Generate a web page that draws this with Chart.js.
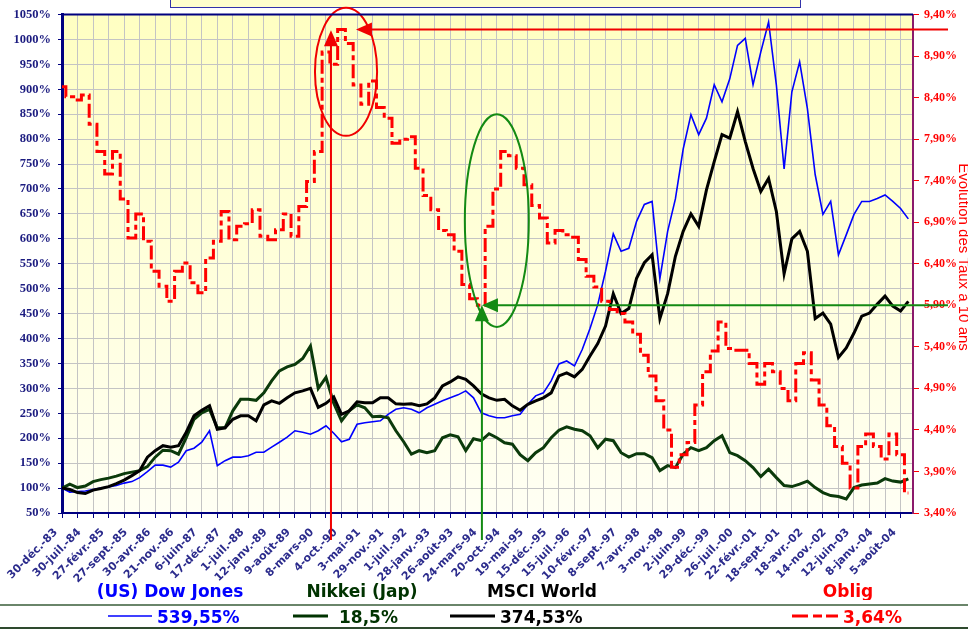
<!DOCTYPE html>
<html>
<head>
<meta charset="utf-8">
<script src="https://cdn.jsdelivr.net/npm/chart.js@4.4.1/dist/chart.umd.min.js"></script>
<style>
  html, body { margin: 0; padding: 0; background: #fff; overflow: hidden; }
  canvas { display: block; }
</style>
</head>
<body>
<canvas id="chart" width="968" height="629"></canvas>
<script>
// date labels, one every 150 quotes
const tickLabels = ['30-déc.-83', '30-juil.-84', '27-févr.-85', '27-sept.-85', '30-avr.-86', '21-nov.-86',
  '6-juin-87', '17-déc.-87', '1-juil.-88', '12-janv.-89', '9-août-89', '8-mars-90', '4-oct.-90',
  '3-mai-91', '29-nov.-91', '1-juil.-92', '28-janv.-93', '26-août-93', '24-mars-94', '20-oct.-94',
  '19-mai-95', '15-déc.-95', '15-juil.-96', '10-févr.-97', '8-sept.-97', '7-avr.-98', '3-nov.-98',
  '2-juin-99', '29-déc.-99', '26-juil.-00', '22-févr.-01', '18-sept.-01', '18-avr.-02', '14-nov.-02',
  '12-juin-03', '8-janv.-04', '5-août-04'];
const leftTicks = [50, 100, 150, 200, 250, 300, 350, 400, 450, 500, 550, 600, 650, 700, 750, 800, 850, 900, 950, 1000, 1050];
const rightTicks = [3.4, 3.9, 4.4, 4.9, 5.4, 5.9, 6.4, 6.9, 7.4, 7.9, 8.4, 8.9, 9.4];

// index base 100 on 30-déc.-83, one value every 50 quotes
const dowJones = [
  100, 92, 93, 94, 97, 100, 102, 105, 110, 113,
  121, 133, 146, 146, 142, 152, 175, 180, 192, 215,
  145, 155, 162, 162, 165, 172, 172, 182, 192, 202,
  215, 212, 208, 215, 225, 210, 193, 198, 228, 231,
  233, 235, 248, 258, 261, 258, 251, 261, 268, 275,
  281, 287, 295, 281, 251, 245, 241, 241, 245, 248,
  268, 285, 291, 315, 349, 355, 345, 378, 420, 468,
  535, 610, 575, 581, 635, 669, 675, 520, 615, 680,
  780, 849, 809, 842, 909, 875, 921, 988, 1002, 909,
  975, 1035, 909, 740, 895, 955, 861, 729, 649, 675,
  568, 608, 649, 675, 675, 681, 688, 675, 661, 640
];
const nikkei = [
  100, 108, 101, 104, 113, 117, 120, 124, 129, 132,
  135, 143, 162, 176, 175, 168, 201, 238, 251, 258,
  221, 221, 255, 278, 278, 276, 291, 315, 335, 343,
  348, 360, 385, 300, 322, 270, 235, 255, 267, 261,
  243, 244, 241, 215, 193, 168, 175, 171, 175, 201,
  207, 203, 175, 199, 195, 209, 201, 191, 188, 167,
  155, 171, 181, 201, 216, 223, 218, 215, 205, 181,
  198, 195, 171, 162, 169, 169, 161, 135, 145, 141,
  168, 181, 175, 181, 195, 205, 171, 165, 155, 141,
  123, 138, 121, 105, 103, 108, 114, 101, 91, 85,
  83, 78, 101, 106, 108, 110, 119, 114, 112, 118.5
];
const msci = [
  100, 97, 91, 89, 96, 99, 103, 109, 116, 125,
  135, 162, 175, 185, 182, 185, 212, 245, 256, 265,
  218, 221, 238, 245, 245, 235, 267, 275, 270, 281,
  291, 295, 300, 262, 270, 283, 248, 255, 273, 271,
  271, 281, 281, 269, 268, 269, 265, 269, 281, 305,
  313, 323, 318, 305, 289, 281, 276, 278, 265, 256,
  268, 275, 281, 291, 325, 331, 323, 338, 365, 390,
  425, 490, 450, 460, 521, 552, 568, 440, 490, 565,
  615, 650, 625, 698, 755, 809, 802, 855, 795, 741,
  695, 721, 655, 530, 600, 615, 575, 440, 451, 429,
  362, 381, 411, 445, 451, 469, 485, 465, 455, 474.5
];
// 10-year rate, %, right axis
const oblig = [
  8.53, 8.41, 8.37, 8.43, 8.08, 7.75, 7.48, 7.75, 7.18, 6.71,
  7.00, 6.67, 6.31, 6.13, 5.95, 6.31, 6.41, 6.17, 6.05, 6.47,
  6.67, 7.03, 6.69, 6.85, 6.88, 7.05, 6.73, 6.69, 6.81, 7.00,
  6.73, 7.09, 7.39, 7.75, 8.95, 8.80, 9.22, 9.05, 8.55, 8.32,
  8.60, 8.28, 8.15, 7.85, 7.90, 7.93, 7.55, 7.22, 7.05, 6.80,
  6.75, 6.55, 6.15, 5.98, 5.90, 6.85, 7.30, 7.75, 7.70, 7.55,
  7.35, 7.10, 6.95, 6.65, 6.80, 6.75, 6.72, 6.45, 6.25, 6.12,
  5.95, 5.85, 5.80, 5.70, 5.55, 5.30, 5.05, 4.75, 4.40, 3.95,
  4.10, 4.25, 4.70, 5.10, 5.35, 5.70, 5.38, 5.36, 5.36, 5.20,
  4.95, 5.20, 5.10, 4.90, 4.75, 5.20, 5.33, 5.00, 4.70, 4.45,
  4.20, 4.00, 3.70, 4.20, 4.35, 4.20, 4.05, 4.35, 4.10, 3.64
];

const seriesNames = ['(US) Dow Jones', 'Nikkei (Jap)', 'MSCI World', 'Oblig'];
const finalPerf = ['539,55%', '18,5%', '374,53%', '3,64%'];
const seriesColors = ['#0000ff', '#003300', '#000000', '#ff0000'];

// highlighted zones (x in units of 100 quotes, y on the rate axis)
const redMark = { x: 17.32, top: 9.21, level: 9.22, arrowX: 18.93, ellipse: [18.29, 8.71, 2.0, 0.77] };
const greenMark = { x: 27.04, level: 5.90, ellipse: [28.0, 6.92, 2.06, 1.28] };

const SAMPLE_STEP = 0.5;   // 50 quotes
const LABEL_STEP = 1.5;    // 150 quotes
const X_MAX = 54.8;

const pts = arr => arr.map((v, i) => ({ x: i * SAMPLE_STEP, y: v }));

const xTickValues = [];
for (let v = 0; v <= X_MAX; v += 0.5) {
  if (v % 1 === 0 || v % LABEL_STEP === 0) xTickValues.push(v);
}
const isGrid = ctx => ctx.tick && Number.isInteger(ctx.tick.value);

function arrowHead(ctx, tx, ty, dx, dy, len, half) {
  const bx = tx - dx * len, by = ty - dy * len;
  ctx.beginPath();
  ctx.moveTo(tx, ty);
  ctx.lineTo(bx - dy * half, by + dx * half);
  ctx.lineTo(bx + dy * half, by - dx * half);
  ctx.closePath();
  ctx.fill();
}

function drawMark(ctx, chart, m, color, withVerticalTop) {
  const X = v => chart.scales.x.getPixelForValue(v);
  const Y = v => chart.scales.y2.getPixelForValue(v);
  const a = chart.chartArea;
  ctx.strokeStyle = color;
  ctx.fillStyle = color;
  ctx.lineWidth = 2;
  const [ex, ey, erx, ery] = m.ellipse;
  ctx.beginPath();
  ctx.ellipse(X(ex), Y(ey), X(ex + erx) - X(ex), Y(ey) - Y(ey + ery), 0, 0, Math.PI * 2);
  ctx.stroke();

  const vx = X(m.x);
  const vTop = withVerticalTop ? Y(m.top) : Y(m.level);
  ctx.beginPath();
  ctx.moveTo(vx, a.bottom + 27);
  ctx.lineTo(vx, vTop + 10);
  ctx.stroke();
  arrowHead(ctx, vx, vTop, 0, -1, 16, 7);

  const hy = Y(m.level);
  const hx = m.arrowX !== undefined ? X(m.arrowX) : vx;
  ctx.beginPath();
  ctx.moveTo(hx + 10, hy);
  ctx.lineTo(a.right + 35, hy);
  ctx.stroke();
  arrowHead(ctx, hx, hy, -1, 0, 16, 7);
}

const decor = {
  id: 'decor',
  beforeDraw(chart) {
    const { ctx, chartArea: a } = chart;
    ctx.save();
    ctx.fillStyle = '#ffffff';
    ctx.fillRect(0, 0, chart.width, chart.height);
    const g = ctx.createLinearGradient(0, a.top, 0, a.bottom);
    g.addColorStop(0, '#ffffc2');
    g.addColorStop(1, '#fffff4');
    ctx.fillStyle = g;
    ctx.fillRect(a.left, a.top, a.right - a.left, a.bottom - a.top);
    // bottom of the title box, cut by the frame
    ctx.fillStyle = '#ffffcc';
    ctx.fillRect(170, -2, 630, 9);
    ctx.strokeStyle = '#3333aa';
    ctx.lineWidth = 1;
    ctx.strokeRect(170.5, -2, 630, 9.5);
    ctx.restore();
  },
  afterDatasetsDraw(chart) {
    const ctx = chart.ctx;
    ctx.save();
    drawMark(ctx, chart, redMark, '#f00000', true);
    drawMark(ctx, chart, greenMark, '#138a13', false);
    ctx.restore();
  },
  afterDraw(chart) {
    const { ctx, chartArea: a } = chart;
    ctx.save();
    // top frame
    ctx.strokeStyle = '#000080';
    ctx.lineWidth = 2;
    ctx.beginPath();
    ctx.moveTo(a.left, a.top);
    ctx.lineTo(a.right, a.top);
    ctx.stroke();

    // right axis title, cut by the picture edge
    ctx.save();
    ctx.translate(959, 257);
    ctx.rotate(Math.PI / 2);
    ctx.fillStyle = '#ff0000';
    ctx.font = '15px "Liberation Sans", Arial, sans-serif';
    ctx.textAlign = 'center';
    ctx.textBaseline = 'alphabetic';
    ctx.fillText('Evolution des Taux à 10 ans', 0, 0);
    ctx.restore();

    // legend table
    const nameX = [170, 362, 542, 848];
    const lineX = [[108, 152], [293, 328], [450, 495], [792, 838]];
    const lineW = [1.5, 3, 3, 3];
    const valX = [157, 339, 500, 843];
    ctx.font = 'bold 17px "DejaVu Sans", sans-serif';
    ctx.save();
    ctx.beginPath();
    ctx.rect(0, 576, chart.width, 24);
    ctx.clip();
    ctx.textAlign = 'center';
    seriesNames.forEach((n, i) => {
      ctx.fillStyle = seriesColors[i];
      ctx.fillText(n, nameX[i], 597);
    });
    ctx.restore();

    ctx.lineWidth = 2;
    ctx.strokeStyle = '#6a856a';
    ctx.beginPath(); ctx.moveTo(0, 605); ctx.lineTo(chart.width, 605); ctx.stroke();
    ctx.strokeStyle = '#2e4a2e';
    ctx.beginPath(); ctx.moveTo(0, 628); ctx.lineTo(chart.width, 628); ctx.stroke();

    ctx.textAlign = 'left';
    seriesNames.forEach((n, i) => {
      ctx.strokeStyle = seriesColors[i];
      ctx.lineWidth = lineW[i];
      ctx.setLineDash(i === 3 ? [16, 5, 9, 4] : []);
      ctx.beginPath();
      ctx.moveTo(lineX[i][0], 616);
      ctx.lineTo(lineX[i][1], 616);
      ctx.stroke();
      ctx.setLineDash([]);
      ctx.fillStyle = seriesColors[i];
      ctx.fillText(finalPerf[i], valX[i], 623);
    });
    ctx.restore();
  }
};

new Chart(document.getElementById('chart'), {
  type: 'line',
  data: {
    datasets: [
      { label: seriesNames[3], data: pts(oblig), yAxisID: 'y2', borderColor: '#ff0000', borderWidth: 3,
        borderDash: [14, 4, 5, 4], stepped: 'middle', order: 0 },
      { label: seriesNames[2], data: pts(msci), yAxisID: 'y', borderColor: '#000000', borderWidth: 3, order: 1 },
      { label: seriesNames[1], data: pts(nikkei), yAxisID: 'y', borderColor: '#0b3a0b', borderWidth: 3, order: 2 },
      { label: seriesNames[0], data: pts(dowJones), yAxisID: 'y', borderColor: '#0000ff', borderWidth: 1.6, order: 3 }
    ]
  },
  options: {
    responsive: false,
    animation: false,
    devicePixelRatio: 1,
    elements: { point: { radius: 0 }, line: { tension: 0, fill: false } },
    layout: { padding: { top: 12, left: 0, right: 0, bottom: 0 } },
    plugins: { legend: { display: false }, tooltip: { enabled: false } },
    scales: {
      x: {
        type: 'linear', position: 'bottom', min: 0, max: X_MAX,
        afterBuildTicks: s => { s.ticks = xTickValues.map(v => ({ value: v })); },
        afterFit: s => { s.height = 116; },
        grid: {
          color: ctx => isGrid(ctx) ? '#c4c4c4' : 'rgba(0,0,0,0)',
          tickColor: ctx => isGrid(ctx) ? '#000080' : 'rgba(0,0,0,0)',
          tickLength: 5, lineWidth: 1
        },
        border: { color: '#000080', width: 2 },
        ticks: {
          autoSkip: false, maxRotation: 45, minRotation: 45, padding: 8, labelOffset: -6,
          color: '#2b2b8c',
          font: { family: '"DejaVu Sans", sans-serif', size: 11, weight: 'bold' },
          callback: v => {
            const k = v / LABEL_STEP;
            return Number.isInteger(k) ? tickLabels[k] : '';
          }
        }
      },
      y: {
        type: 'linear', position: 'left', min: 50, max: 1050,
        afterBuildTicks: s => { s.ticks = leftTicks.map(v => ({ value: v })); },
        afterFit: s => { s.width = 62; },
        grid: { color: '#c4c4c4', tickColor: '#000080', tickLength: 4 },
        border: { color: '#000080', width: 3 },
        ticks: {
          padding: 7, color: '#1c1c80',
          font: { family: '"Liberation Serif", "Times New Roman", serif', size: 12.5, weight: 'bold' },
          callback: v => v + '%'
        }
      },
      y2: {
        type: 'linear', position: 'right', min: 3.4, max: 9.4,
        afterBuildTicks: s => { s.ticks = rightTicks.map(v => ({ value: v })); },
        afterFit: s => { s.width = 55; },
        grid: { drawOnChartArea: false, tickColor: '#ff0000', tickLength: 6 },
        border: { color: '#8b1a6b', width: 2 },
        ticks: {
          padding: 5, color: '#ff0000',
          font: { family: '"Liberation Serif", "Times New Roman", serif', size: 12, weight: 'bold' },
          callback: v => v.toFixed(2).replace('.', ',') + '%'
        }
      }
    }
  },
  plugins: [decor]
});
</script>
</body>
</html>
